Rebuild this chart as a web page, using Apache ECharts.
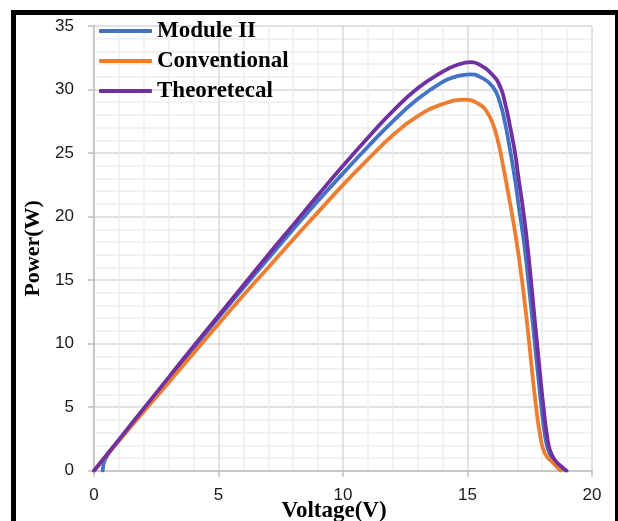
<!DOCTYPE html>
<html>
<head>
<meta charset="utf-8">
<script src="https://cdn.jsdelivr.net/npm/echarts@6/dist/echarts.min.js"></script>
<style>
html,body{margin:0;padding:0;background:#fff;}
#c{width:618px;height:521px;}
</style>
</head>
<body>
<div id="c"></div>
<script>
// Data
const seriesNames = ['Module II', 'Conventional', 'Theoretecal'];
const xTicks = [0, 5, 10, 15, 20];
const yTicks = [0, 5, 10, 15, 20, 25, 30, 35];

const moduleV = [0.35, 0.45, 1, 2, 3, 4, 5, 6, 7, 8, 9, 10, 11, 12, 13, 14, 14.5, 15.1, 15.5, 16.01, 16.31, 16.51, 16.71, 16.91, 17.04, 17.18, 17.31, 17.44, 17.57, 17.70, 17.83, 17.97, 18.10, 18.24, 18.45, 18.72, 18.95];
const moduleP = [0, 0.9, 2.35, 4.8, 7.25, 9.65, 12.05, 14.4, 16.7, 19.0, 21.25, 23.4, 25.5, 27.5, 29.25, 30.6, 31.0, 31.2, 31.0, 30.24, 28.93, 27.35, 25.25, 22.9, 21.05, 19.2, 17.3, 15.0, 12.6, 10.1, 7.6, 5.0, 2.94, 1.63, 0.84, 0.31, 0];

const convV = [0, 1, 2, 3, 4, 5, 6, 7, 8, 9, 10, 11, 12, 13, 14, 14.9, 15.5, 15.77, 16.01, 16.24, 16.44, 16.64, 16.84, 17.02, 17.18, 17.33, 17.47, 17.6, 17.75, 17.9, 18.1, 18.45, 18.74];
const convP = [0, 2.35, 4.65, 6.95, 9.25, 11.55, 13.8, 16.0, 18.2, 20.35, 22.5, 24.5, 26.4, 27.9, 28.85, 29.2, 28.8, 28.27, 27.35, 25.8, 23.9, 21.8, 19.6, 17.4, 15.1, 12.7, 10.2, 7.7, 5.1, 3.0, 1.4, 0.58, 0];

const theoV = [0, 1, 2, 3, 4, 5, 6, 7, 8, 9, 10, 11, 12, 13, 14, 14.6, 15.15, 15.5, 16.0, 16.31, 16.51, 16.71, 16.91, 17.04, 17.18, 17.31, 17.42, 17.52, 17.65, 17.78, 17.91, 18.05, 18.18, 18.31, 18.51, 18.78, 18.98];
const theoP = [0, 2.45, 4.9, 7.35, 9.8, 12.2, 14.6, 17.0, 19.35, 21.7, 24.0, 26.2, 28.3, 30.1, 31.4, 31.95, 32.15, 31.94, 31.16, 30.24, 28.93, 27.09, 25.0, 23.15, 21.3, 19.4, 17.5, 15.6, 12.9, 10.3, 7.67, 5.04, 2.94, 1.63, 0.84, 0.31, 0];

const colors = ['#4472C4', '#ED7D31', '#7030A0'];

function zip(a, b) { return a.map((v, i) => [v, b[i]]); }

const chart = echarts.init(document.getElementById('c'), null, {renderer: 'canvas'});
const serifBold = {fontFamily: 'Liberation Serif', fontWeight: 'bold', fontSize: 22, color: '#000'};
const tickFont = {fontFamily: 'Liberation Sans', fontSize: 17, color: '#1a1a1a'};

const mkSeries = (name, v, p, c) => ({
  name: name, type: 'line', data: zip(v, p), smooth: 0.5, showSymbol: false,
  symbol: 'none', lineStyle: {color: c, width: 3.8, cap: 'round', join: 'round'},
  itemStyle: {color: c}, animation: false
});

chart.setOption({
  animation: false,
  backgroundColor: '#fff',
  grid: {left: 94, right: 26, top: 26, bottom: 50.3, containLabel: false, outerBoundsMode: 'none'},
  legend: {
    orient: 'vertical', left: 99, top: 19.5, itemGap: 7, padding: 0,
    itemWidth: 53, itemHeight: 4, icon: 'roundRect',
    data: seriesNames,
    textStyle: Object.assign({}, serifBold, {fontSize: 23, lineHeight: 23})
  },
  xAxis: {
    type: 'value', min: xTicks[0], max: xTicks[xTicks.length - 1], interval: 5,
    name: 'Voltage(V)', nameLocation: 'middle', nameGap: 29, nameMoveOverlap: false,
    nameTextStyle: Object.assign({}, serifBold, {fontSize: 23, padding: [0, 18, 0, 0]}),
    axisLine: {show: true, lineStyle: {color: '#bfbfbf', width: 1.5}},
    axisTick: {show: true, length: 6, lineStyle: {color: '#bfbfbf', width: 1.5}},
    axisLabel: Object.assign({margin: 16}, tickFont),
    splitLine: {show: true, lineStyle: {color: '#d9d9d9', width: 1.5}},
    minorTick: {show: false, splitNumber: 5},
    minorSplitLine: {show: true, lineStyle: {color: '#eeeeee', width: 1.5}}
  },
  yAxis: {
    type: 'value', min: yTicks[0], max: yTicks[yTicks.length - 1], interval: 5,
    name: 'Power(W)', nameLocation: 'middle', nameGap: 50, nameRotate: 90, nameMoveOverlap: false, nameTextStyle: serifBold,
    axisLine: {show: true, lineStyle: {color: '#bfbfbf', width: 1.5}},
    axisTick: {show: true, length: 6, lineStyle: {color: '#bfbfbf', width: 1.5}},
    axisLabel: Object.assign({margin: 20}, tickFont),
    splitLine: {show: true, lineStyle: {color: '#d9d9d9', width: 1.5}},
    minorTick: {show: false, splitNumber: 5},
    minorSplitLine: {show: true, lineStyle: {color: '#eeeeee', width: 1.5}}
  },
  graphic: [{
    type: 'rect', z: 100, silent: true,
    shape: {x: 13.5, y: 12.5, width: 604, height: 530},
    style: {fill: null, stroke: '#000', lineWidth: 5}
  }],
  series: [
    mkSeries(seriesNames[0], moduleV, moduleP, colors[0]),
    mkSeries(seriesNames[1], convV, convP, colors[1]),
    mkSeries(seriesNames[2], theoV, theoP, colors[2])
  ]
});
</script>
</body>
</html>
